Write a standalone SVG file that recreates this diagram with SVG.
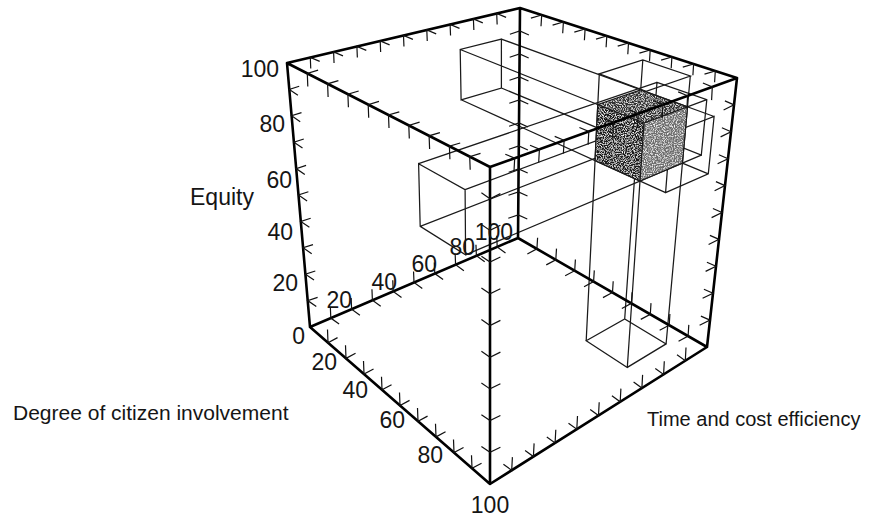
<svg xmlns="http://www.w3.org/2000/svg" width="876" height="518" viewBox="0 0 876 518">
<style>
.edge{fill:none;stroke:#000;stroke-width:2.6;stroke-linecap:round;stroke-linejoin:round}
.ticks{fill:none;stroke:#111;stroke-width:1.2}
.rod{fill:none;stroke:#1a1a1a;stroke-width:1.25}
.lbl{font-family:"Liberation Sans",Arial,sans-serif;font-size:23px;fill:#151515}
.ax{font-family:"Liberation Sans",Arial,sans-serif;font-size:21px;fill:#151515}
</style>
<defs>
<filter id="grain" x="0" y="0" width="1" height="1">
<feTurbulence type="fractalNoise" baseFrequency="0.9" numOctaves="2" seed="3" result="n"/>
<feColorMatrix in="n" type="matrix" values="0 0 0 0 1 0 0 0 0 1 0 0 0 0 1 0 0 0 -2.6 1.45" result="w"/>
<feComposite in="w" in2="SourceGraphic" operator="in" result="wm"/>
<feMerge><feMergeNode in="SourceGraphic"/><feMergeNode in="wm"/></feMerge>
</filter>
<path id="tEH" d="M9.55,-5.1L0,0L-0.5,-13.1"/>
<path id="tFG" d="M-9.55,5.1L0,0L0.7,-11.2"/>
<path id="tEF" d="M8.3,6L0,0L-0.45,-11.1"/>
<path id="tHG" d="M-8.3,-6L0,0L0.7,-13.2"/>
<path id="tAD" d="M10.8,-3.2L0,0L0.5,13.1"/>
<path id="tBC" d="M-10.8,3.2L0,0L-0.7,11.2"/>
<path id="tAB" d="M9.4,3.9L0,0L0.45,11.1"/>
<path id="tDC" d="M-9.4,-3.9L0,0L-0.7,13.2"/>
<path id="tAE" d="M8.6,5.9L0,0L9.9,-3.2"/>
<path id="tDH" d="M-8.6,-5.9L0,0L10.4,-5.1"/>
<path id="tBF" d="M9.1,4L0,0L-9.9,3.2"/>
<path id="tCG" d="M-9.1,-4L0,0L-10.4,5.1"/>
</defs>
<rect width="876" height="518" fill="#fff"/>

<g id="rod-x" class="rod">
<path d="M461.1,99.8L665.6,192.6M501.4,88L708.3,173.8M460.2,49.5L670.2,133.5M501.4,39.1L714.1,116.5M461.1,99.8L501.4,88L501.4,39.1L460.2,49.5ZM665.6,192.6L708.3,173.8L714.1,116.5L670.2,133.5Z"/>
</g>
<g id="rod-y" class="rod">
<path d="M418.6,163.7L465.1,189.6L465.6,254.8L420.2,226.4ZM657,82.3L706.8,99.6L701.3,155.1L652.8,135.8ZM418.6,163.7L657,82.3M465.1,189.6L706.8,99.6M465.6,254.8L701.3,155.1M420.2,226.4L652.8,135.8"/>
</g>
<g id="rod-z" class="rod">
<path d="M586.2,340.7L627.3,367.4L666.1,343.9L624.7,319ZM599.3,73.9L646.1,91.3L690.3,76L642.8,60ZM586.2,340.7L599.3,73.9M627.3,367.4L646.1,91.3M666.1,343.9L690.3,76M624.7,319L642.8,60"/>
</g>

<g id="intersection">
<g filter="url(#grain)">
<path d="M597.8,104.5L640.7,89.8L687.5,106.8L644,123Z" fill="#303030"/>
<path d="M597.8,104.5L644,123L640,181L595,160.6Z" fill="#1c1c1c"/>
<path d="M644,123L687.5,106.8L682.4,163.1L640,181Z" fill="#6e6e6e"/>
</g>
<path class="rod" d="M597.8,104.5L640.7,89.8L687.5,106.8L644,123ZM644,123L640,181L595,160.6L597.8,104.5M640,181L682.4,163.1L687.5,106.8"/>
</g>

<g id="cube" class="edge">
<path d="M287,63L520,8L737,78L490,167ZM310,327L518,238L707,347L490,484ZM287,63L310,327M520,8L518,238M737,78L707,347M490,167L490,484"/>
</g>

<g id="ticks" class="ticks">
<use href="#tEH" x="328" y="342.7"/><use href="#tEH" x="346" y="358.4"/><use href="#tEH" x="364" y="374.1"/><use href="#tEH" x="382" y="389.8"/><use href="#tEH" x="400" y="405.5"/><use href="#tEH" x="418" y="421.2"/><use href="#tEH" x="436" y="436.9"/><use href="#tEH" x="454" y="452.6"/><use href="#tEH" x="472" y="468.3"/>
<use href="#tFG" x="536.9" y="248.9"/><use href="#tFG" x="555.8" y="259.8"/><use href="#tFG" x="574.7" y="270.7"/><use href="#tFG" x="593.6" y="281.6"/><use href="#tFG" x="612.5" y="292.5"/><use href="#tFG" x="631.4" y="303.4"/><use href="#tFG" x="650.3" y="314.3"/><use href="#tFG" x="669.2" y="325.2"/><use href="#tFG" x="688.1" y="336.1"/>
<use href="#tEF" x="330.8" y="318.1"/><use href="#tEF" x="351.6" y="309.2"/><use href="#tEF" x="372.4" y="300.3"/><use href="#tEF" x="393.2" y="291.4"/><use href="#tEF" x="414" y="282.5"/><use href="#tEF" x="434.8" y="273.6"/><use href="#tEF" x="455.6" y="264.7"/><use href="#tEF" x="476.4" y="255.8"/><use href="#tEF" x="497.2" y="246.9"/>
<use href="#tHG" x="511.7" y="470.3"/><use href="#tHG" x="533.4" y="456.6"/><use href="#tHG" x="555.1" y="442.9"/><use href="#tHG" x="576.8" y="429.2"/><use href="#tHG" x="598.5" y="415.5"/><use href="#tHG" x="620.2" y="401.8"/><use href="#tHG" x="641.9" y="388.1"/><use href="#tHG" x="663.6" y="374.4"/><use href="#tHG" x="685.3" y="360.7"/>
<use href="#tAD" x="307.3" y="73.4"/><use href="#tAD" x="327.6" y="83.8"/><use href="#tAD" x="347.9" y="94.2"/><use href="#tAD" x="368.2" y="104.6"/><use href="#tAD" x="388.5" y="115"/><use href="#tAD" x="408.8" y="125.4"/><use href="#tAD" x="429.1" y="135.8"/><use href="#tAD" x="449.4" y="146.2"/><use href="#tAD" x="469.7" y="156.6"/>
<use href="#tBC" x="541.7" y="15"/><use href="#tBC" x="563.4" y="22"/><use href="#tBC" x="585.1" y="29"/><use href="#tBC" x="606.8" y="36"/><use href="#tBC" x="628.5" y="43"/><use href="#tBC" x="650.2" y="50"/><use href="#tBC" x="671.9" y="57"/><use href="#tBC" x="693.6" y="64"/><use href="#tBC" x="715.3" y="71"/>
<use href="#tAB" x="310.3" y="57.5"/><use href="#tAB" x="333.6" y="52"/><use href="#tAB" x="356.9" y="46.5"/><use href="#tAB" x="380.2" y="41"/><use href="#tAB" x="403.5" y="35.5"/><use href="#tAB" x="426.8" y="30"/><use href="#tAB" x="450.1" y="24.5"/><use href="#tAB" x="473.4" y="19"/><use href="#tAB" x="496.7" y="13.5"/>
<use href="#tDC" x="514.7" y="158.1"/><use href="#tDC" x="539.4" y="149.2"/><use href="#tDC" x="564.1" y="140.3"/><use href="#tDC" x="588.8" y="131.4"/><use href="#tDC" x="613.5" y="122.5"/><use href="#tDC" x="638.2" y="113.6"/><use href="#tDC" x="662.9" y="104.7"/><use href="#tDC" x="687.6" y="95.8"/><use href="#tDC" x="712.3" y="86.9"/>
<use href="#tAE" x="307.7" y="300.6"/><use href="#tAE" x="305.4" y="274.2"/><use href="#tAE" x="303.1" y="247.8"/><use href="#tAE" x="300.8" y="221.4"/><use href="#tAE" x="298.5" y="195"/><use href="#tAE" x="296.2" y="168.6"/><use href="#tAE" x="293.9" y="142.2"/><use href="#tAE" x="291.6" y="115.8"/><use href="#tAE" x="289.3" y="89.4"/>
<use href="#tDH" x="490" y="452.3"/><use href="#tDH" x="490" y="420.6"/><use href="#tDH" x="490" y="388.9"/><use href="#tDH" x="490" y="357.2"/><use href="#tDH" x="490" y="325.5"/><use href="#tDH" x="490" y="293.8"/><use href="#tDH" x="490" y="262.1"/><use href="#tDH" x="490" y="230.4"/><use href="#tDH" x="490" y="198.7"/>
<use href="#tBF" x="518.2" y="215"/><use href="#tBF" x="518.4" y="192"/><use href="#tBF" x="518.6" y="169"/><use href="#tBF" x="518.8" y="146"/><use href="#tBF" x="519" y="123"/><use href="#tBF" x="519.2" y="100"/><use href="#tBF" x="519.4" y="77"/><use href="#tBF" x="519.6" y="54"/><use href="#tBF" x="519.8" y="31"/>
<use href="#tCG" x="710" y="320.1"/><use href="#tCG" x="713" y="293.2"/><use href="#tCG" x="716" y="266.3"/><use href="#tCG" x="719" y="239.4"/><use href="#tCG" x="722" y="212.5"/><use href="#tCG" x="725" y="185.6"/><use href="#tCG" x="728" y="158.7"/><use href="#tCG" x="731" y="131.8"/><use href="#tCG" x="734" y="104.9"/>
</g>

<g id="equity-labels" class="lbl" text-anchor="end">
<text x="279" y="77">100</text>
<text x="285" y="132">80</text>
<text x="292" y="188">60</text>
<text x="293" y="240">40</text>
<text x="298" y="291">20</text>
<text x="305" y="344">0</text>
</g>
<g id="time-labels" class="lbl" text-anchor="end">
<text x="352" y="308">20</text>
<text x="397" y="290">40</text>
<text x="437" y="272">60</text>
<text x="475" y="255">80</text>
<text x="513" y="240">100</text>
</g>
<g id="involvement-labels" class="lbl" text-anchor="end">
<text x="337" y="370">20</text>
<text x="368" y="398">40</text>
<text x="405" y="428">60</text>
<text x="443" y="463">80</text>
<text x="490" y="513" text-anchor="middle">100</text>
</g>
<g id="axis-titles">
<text class="ax" x="190" y="205" style="font-size:23px">Equity</text>
<text class="ax" x="13" y="420">Degree of citizen involvement</text>
<text class="ax" x="647" y="426" style="font-size:20px">Time and cost efficiency</text>
</g>
</svg>
